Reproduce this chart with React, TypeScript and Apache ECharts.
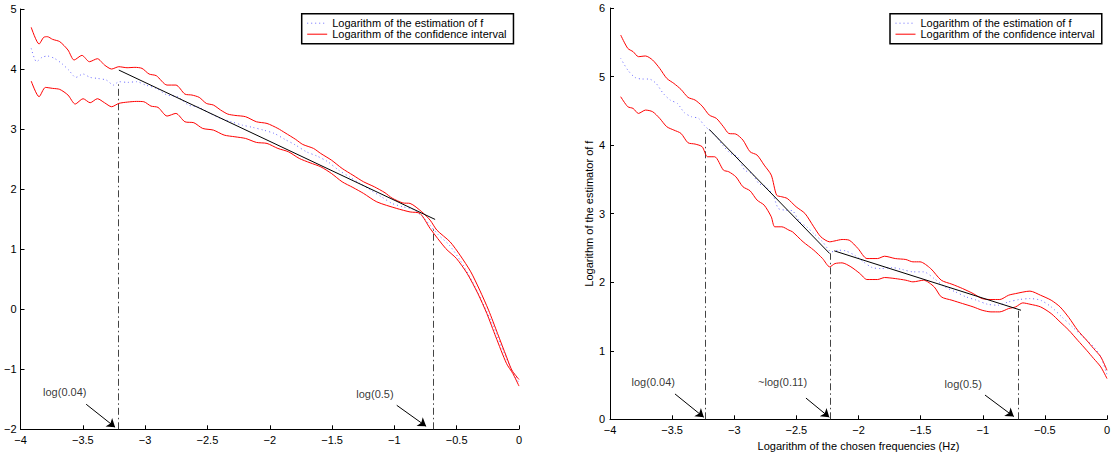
import React, { useEffect, useRef } from 'react';
import * as echarts from 'echarts';

const ESTIMATE_NAME = 'Logarithm of the estimation of f';
const CI_NAME = 'Logarithm of the confidence interval';
const FONT = '"Liberation Sans", Arial, Helvetica, sans-serif';

// ---------- left panel ----------
const leftUpper = [[-3.914,4.694],[-3.851,4.417],[-3.814,4.528],[-3.785,4.539],[-3.742,4.494],[-3.685,4.456],[-3.619,4.317],[-3.57,4.15],[-3.507,4.228],[-3.447,4.122],[-3.383,4.172],[-3.326,4.067],[-3.269,4.0],[-3.211,4.039],[-3.145,4.022],[-3.082,4.028],[-3.025,4.011],[-2.968,3.917],[-2.91,3.889],[-2.824,3.733],[-2.753,3.733],[-2.681,3.583],[-2.624,3.567],[-2.566,3.528],[-2.509,3.428],[-2.452,3.4],[-2.394,3.317],[-2.337,3.25],[-2.28,3.228],[-2.194,3.206],[-2.107,3.122],[-2.022,3.094],[-1.935,3.011],[-1.878,2.939],[-1.792,2.828],[-1.735,2.744],[-1.649,2.678],[-1.591,2.594],[-1.505,2.483],[-1.419,2.344],[-1.333,2.233],[-1.247,2.122],[-1.161,2.039],[-1.075,1.939],[-1.018,1.85],[-0.932,1.77],[-0.874,1.762],[-0.78,1.622],[-0.713,1.483],[-0.659,1.317],[-0.553,1.122],[-0.473,0.9],[-0.387,0.623],[-0.315,0.317],[-0.244,-0.016],[-0.172,-0.405],[-0.1,-0.794],[-0.057,-1.016],[0,-1.17]];
const leftLower = [[-3.914,3.8],[-3.851,3.539],[-3.8,3.694],[-3.742,3.678],[-3.685,3.661],[-3.619,3.567],[-3.561,3.417],[-3.498,3.506],[-3.441,3.439],[-3.383,3.506],[-3.326,3.439],[-3.269,3.372],[-3.211,3.428],[-3.14,3.45],[-3.068,3.461],[-3.011,3.456],[-2.953,3.383],[-2.896,3.361],[-2.824,3.217],[-2.753,3.261],[-2.681,3.122],[-2.609,3.106],[-2.538,3.011],[-2.452,2.983],[-2.366,2.9],[-2.28,2.872],[-2.194,2.844],[-2.107,2.778],[-2.022,2.761],[-1.935,2.678],[-1.85,2.622],[-1.763,2.511],[-1.677,2.439],[-1.591,2.372],[-1.505,2.261],[-1.419,2.122],[-1.333,2.028],[-1.247,1.928],[-1.141,1.788],[-0.981,1.678],[-0.874,1.62],[-0.794,1.595],[-0.713,1.345],[-0.588,1.011],[-0.502,0.845],[-0.416,0.595],[-0.33,0.261],[-0.258,-0.072],[-0.186,-0.461],[-0.1,-0.905],[-0.049,-1.072],[0,-1.28]];
const leftEstimate = [[-3.914,4.344],[-3.871,4.122],[-3.828,4.194],[-3.785,4.217],[-3.728,4.178],[-3.67,4.094],[-3.613,3.983],[-3.556,3.861],[-3.498,3.917],[-3.441,3.861],[-3.383,3.844],[-3.312,3.817],[-3.254,3.733],[-3.211,3.789],[-3.14,3.778],[-3.068,3.789],[-2.996,3.733],[-2.91,3.678],[-2.824,3.567],[-2.738,3.539],[-2.652,3.4],[-2.566,3.361],[-2.48,3.261],[-2.394,3.178],[-2.308,3.122],[-2.222,3.067],[-2.136,3.028],[-2.05,2.983],[-1.964,2.928],[-1.878,2.828],[-1.792,2.733],[-1.706,2.622],[-1.62,2.55],[-1.534,2.456],[-1.448,2.317],[-1.362,2.206],[-1.276,2.094],[-1.19,1.983],[-1.104,1.872],[-1.018,1.761],[-0.932,1.706],[-0.846,1.661],[-0.774,1.539],[-0.703,1.372],[-0.645,1.234],[-0.559,1.067],[-0.473,0.817],[-0.387,0.511],[-0.301,0.15],[-0.215,-0.239],[-0.129,-0.683],[-0.057,-1.016],[0,-1.225]];
const leftFits = [[[-3.211,3.983],[-0.673,1.495]]];
const leftCutoffs = [[[-3.215,-2],[-3.215,3.75]],[[-0.685,-2],[-0.685,1.35]]];
const leftArrows = [[[-3.473,-1.583],[-3.241,-1.965]],[[-0.981,-1.6],[-0.745,-1.95]]];
const leftNotes = [{ name: 'log(0.04)', value: [-3.645,-1.383] },{ name: 'log(0.5)', value: [-1.156,-1.405] }];

// ---------- right panel ----------
const rightUpper = [[-3.914,5.606],[-3.857,5.411],[-3.814,5.363],[-3.771,5.29],[-3.714,5.3],[-3.657,5.241],[-3.6,5.119],[-3.543,4.973],[-3.486,4.9],[-3.429,4.813],[-3.372,4.696],[-3.315,4.657],[-3.258,4.569],[-3.201,4.438],[-3.144,4.39],[-3.087,4.268],[-3.044,4.17],[-2.987,4.161],[-2.93,4.073],[-2.873,3.903],[-2.816,3.854],[-2.759,3.708],[-2.702,3.562],[-2.659,3.27],[-2.617,3.246],[-2.574,3.222],[-2.502,3.1],[-2.431,3.003],[-2.36,2.808],[-2.303,2.662],[-2.232,2.589],[-2.189,2.603],[-2.132,2.623],[-2.075,2.613],[-2.004,2.491],[-1.932,2.345],[-1.847,2.345],[-1.79,2.379],[-1.704,2.345],[-1.619,2.331],[-1.562,2.297],[-1.505,2.297],[-1.419,2.199],[-1.334,2.029],[-1.248,1.971],[-1.162,1.907],[-1.077,1.834],[-1.005,1.761],[-0.934,1.747],[-0.863,1.747],[-0.792,1.81],[-0.735,1.834],[-0.62,1.87],[-0.535,1.81],[-0.449,1.737],[-0.378,1.64],[-0.307,1.484],[-0.236,1.299],[-0.164,1.153],[-0.107,1.031],[-0.05,0.91],[0,0.715]];
const rightLower = [[-3.914,4.706],[-3.857,4.56],[-3.814,4.535],[-3.771,4.462],[-3.714,4.511],[-3.657,4.487],[-3.6,4.39],[-3.543,4.268],[-3.486,4.219],[-3.429,4.171],[-3.372,4.034],[-3.315,4.015],[-3.258,3.976],[-3.215,3.83],[-3.158,3.83],[-3.087,3.635],[-3.044,3.611],[-2.987,3.538],[-2.93,3.392],[-2.873,3.334],[-2.816,3.197],[-2.759,3.124],[-2.702,2.954],[-2.674,2.808],[-2.617,2.808],[-2.56,2.759],[-2.531,2.735],[-2.446,2.589],[-2.36,2.467],[-2.289,2.345],[-2.232,2.224],[-2.189,2.272],[-2.132,2.282],[-2.061,2.224],[-1.989,2.127],[-1.932,2.039],[-1.847,2.039],[-1.79,2.068],[-1.704,2.053],[-1.619,2.029],[-1.562,2.005],[-1.476,2.029],[-1.391,1.932],[-1.334,1.786],[-1.248,1.737],[-1.162,1.688],[-1.077,1.64],[-1.005,1.591],[-0.934,1.567],[-0.863,1.567],[-0.792,1.615],[-0.735,1.64],[-0.678,1.698],[-0.62,1.679],[-0.535,1.64],[-0.449,1.542],[-0.378,1.421],[-0.307,1.299],[-0.236,1.153],[-0.164,1.007],[-0.107,0.886],[-0.05,0.764],[0,0.594]];
const rightEstimate = [[-3.914,5.265],[-3.857,5.095],[-3.8,4.988],[-3.743,4.964],[-3.686,4.964],[-3.629,4.9],[-3.572,4.755],[-3.515,4.657],[-3.458,4.608],[-3.401,4.472],[-3.344,4.414],[-3.287,4.39],[-3.244,4.292],[-3.201,4.219],[-3.144,4.122],[-3.087,3.986],[-3.03,3.878],[-2.973,3.83],[-2.916,3.635],[-2.859,3.587],[-2.802,3.441],[-2.745,3.392],[-2.688,3.27],[-2.645,3.076],[-2.588,3.051],[-2.531,3.041],[-2.474,2.881],[-2.417,2.808],[-2.36,2.71],[-2.289,2.589],[-2.217,2.443],[-2.161,2.467],[-2.104,2.457],[-2.032,2.394],[-1.961,2.297],[-1.89,2.214],[-1.818,2.199],[-1.733,2.214],[-1.647,2.185],[-1.562,2.151],[-1.476,2.151],[-1.391,2.053],[-1.305,1.932],[-1.22,1.859],[-1.134,1.786],[-1.049,1.737],[-0.963,1.679],[-0.877,1.664],[-0.792,1.713],[-0.706,1.747],[-0.62,1.761],[-0.535,1.737],[-0.449,1.64],[-0.364,1.494],[-0.278,1.348],[-0.193,1.202],[-0.107,1.056],[-0.05,0.91],[0,0.65]];
const rightFits = [[[-3.201,4.229],[-2.232,2.418]],[[-2.195,2.457],[-0.692,1.591]]];
const rightCutoffs = [[[-3.23,0],[-3.23,4.23]],[[-2.225,0],[-2.225,2.42]],[[-0.712,0],[-0.712,1.6]]];
const rightArrows = [[[-3.477,0.37],[-3.245,0.03]],[[-2.423,0.31],[-2.235,0.03]],[[-0.982,0.354],[-0.75,0.04]]];
const rightNotes = [{ name: 'log(0.04)', value: [-3.652,0.545] },{ name: '~log(0.11)', value: [-2.611,0.545] },{ name: 'log(0.5)', value: [-1.157,0.511] }];

const xTicks = { min: -4, max: 0, interval: 0.5 };
const leftYTicks = { min: -2, max: 5, interval: 1 };
const rightYTicks = { min: 0, max: 6, interval: 1 };

const fmt = (v: number) => (v < 0 ? '\u2212' + String(Math.abs(v)) : String(v));

function makeAxis(gridIndex: number, ticks: any, extra: any) {
  return {
    type: 'value',
    gridIndex,
    min: ticks.min,
    max: ticks.max,
    interval: ticks.interval,
    axisLine: { show: true, onZero: false, lineStyle: { color: '#000', width: 1 } },
    axisTick: { show: true, inside: true, length: 4, lineStyle: { color: '#000', width: 1 } },
    axisLabel: { color: '#000', fontSize: 11, fontFamily: FONT, formatter: fmt, ...(extra.label || {}) },
    splitLine: { show: false },
    ...(extra.axis || {}),
  };
}

function panelSeries(idx: number, upper: number[][], lower: number[][], est: number[][], fits: number[][][], cutoffs: number[][][], arrows: number[][][], notes: any[]) {
  const base = { xAxisIndex: idx, yAxisIndex: idx, silent: true };
  const out: any[] = [];
  out.push({ ...base, type: 'line', name: CI_NAME, data: upper, symbol: 'none', smooth: 0.25, lineStyle: { color: '#ff0000', width: 1 }, itemStyle: { color: '#ff0000' }, z: 3 });
  out.push({ ...base, type: 'line', name: CI_NAME, data: lower, symbol: 'none', smooth: 0.25, lineStyle: { color: '#ff0000', width: 1 }, itemStyle: { color: '#ff0000' }, z: 3 });
  out.push({ ...base, type: 'line', name: ESTIMATE_NAME, data: est, symbol: 'none', smooth: 0.25, lineStyle: { color: '#6b6bff', width: 1, type: [1, 3] }, itemStyle: { color: '#6b6bff' }, z: 2 });
  fits.forEach((f) => {
    out.push({ ...base, type: 'line', name: 'fit', data: f, symbol: 'none', lineStyle: { color: '#000', width: 1 }, z: 4 });
  });
  out.push({
    ...base, type: 'lines', coordinateSystem: 'cartesian2d', name: 'cutoff',
    symbol: ['none', 'none'],
    lineStyle: { color: '#444', width: 1, type: [7, 3, 1.5, 3], opacity: 1 },
    data: cutoffs.map((c) => ({ coords: c })), z: 1,
  });
  out.push({
    ...base, type: 'lines', coordinateSystem: 'cartesian2d', name: 'arrow',
    symbol: ['none', 'arrow'], symbolSize: 8,
    lineStyle: { color: '#000', width: 1, opacity: 1 },
    data: arrows.map((a) => ({ coords: a })), z: 5,
  });
  out.push({
    ...base, type: 'scatter', name: 'note', data: notes, symbolSize: 1,
    itemStyle: { color: 'rgba(0,0,0,0)' },
    label: { show: true, position: 'inside', formatter: '{b}', color: '#000', fontSize: 11, fontFamily: FONT },
    z: 5,
  });
  return out;
}

function makeLegend(left: number) {
  return {
    orient: 'vertical', left, top: 13.7,
    padding: [4, 7, 4, 5], itemGap: 0, itemWidth: 20, itemHeight: 11,
    borderColor: '#000', borderWidth: 1.5, backgroundColor: '#fff',
    selectedMode: false,
    itemStyle: { opacity: 0 },
    lineStyle: { width: 1 },
    textStyle: { fontSize: 11, color: '#000', fontFamily: FONT },
    data: [ESTIMATE_NAME, CI_NAME],
  };
}

export default function App() {
  const ref = useRef<HTMLDivElement>(null);
  useEffect(() => {
    if (!ref.current) return;
    const chart = echarts.init(ref.current, null, { renderer: 'svg' });
    chart.setOption({
      animation: false,
      backgroundColor: '#fff',
      textStyle: { fontFamily: FONT },
      grid: [
        { left: 20.5, top: 9, width: 498.5, height: 420.3 },
        { left: 610, top: 8, width: 497, height: 411.3 },
      ],
      legend: [makeLegend(301.7), makeLegend(890)],
      xAxis: [
        makeAxis(0, xTicks, { label: { margin: 5 } }),
        makeAxis(1, xTicks, {
          label: { margin: 5 },
          axis: { name: 'Logarithm of the chosen frequencies (Hz)', nameLocation: 'middle', nameGap: 19, nameTextStyle: { color: '#000', fontSize: 11, fontFamily: FONT } },
        }),
      ],
      yAxis: [
        makeAxis(0, leftYTicks, { label: { margin: 4 } }),
        makeAxis(1, rightYTicks, {
          label: { margin: 5 },
          axis: { name: 'Logarithm of the estimator of f', nameLocation: 'middle', nameGap: 14, nameTextStyle: { color: '#000', fontSize: 11, fontFamily: FONT } },
        }),
      ],
      series: [
        ...panelSeries(0, leftUpper, leftLower, leftEstimate, leftFits, leftCutoffs, leftArrows, leftNotes),
        ...panelSeries(1, rightUpper, rightLower, rightEstimate, rightFits, rightCutoffs, rightArrows, rightNotes),
      ],
    });
    return () => chart.dispose();
  }, []);
  return <div ref={ref} style={{ position: 'fixed', left: 0, top: 0, width: 1114, height: 457 }} />;
}
